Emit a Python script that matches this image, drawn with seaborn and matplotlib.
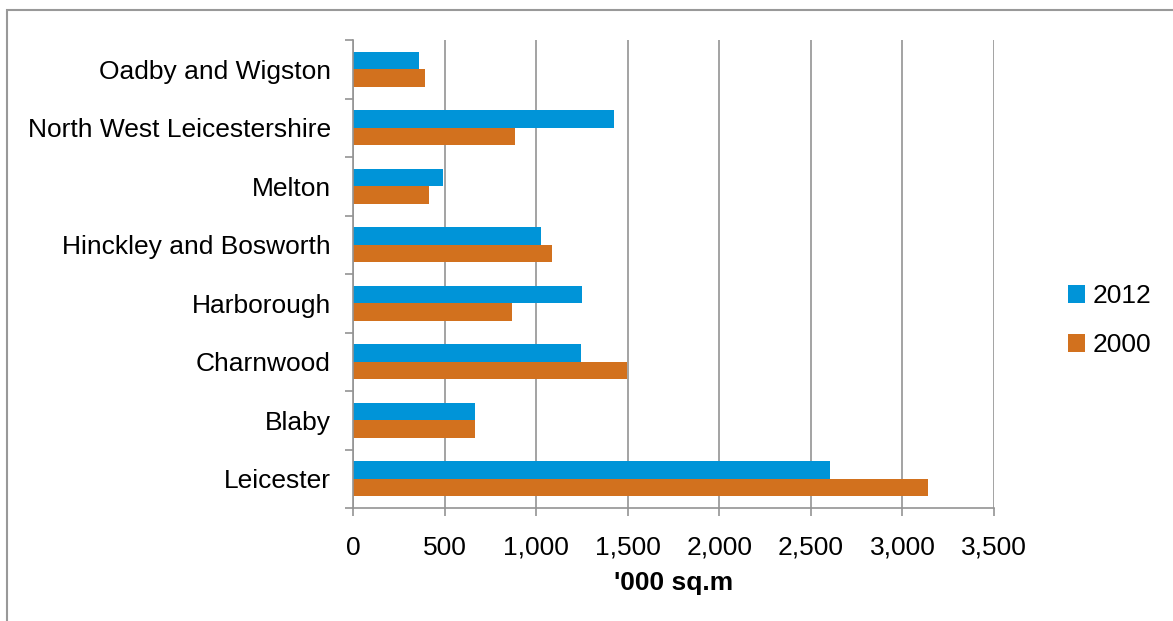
import numpy as np
import pandas as pd
import seaborn as sns
import matplotlib.pyplot as plt
from matplotlib.patches import Rectangle
from matplotlib.ticker import FuncFormatter, FixedLocator

# values ('000 sq.m)
districts = ['Oadby and Wigston', 'North West Leicestershire', 'Melton',
             'Hinckley and Bosworth', 'Harborough', 'Charnwood', 'Blaby', 'Leicester']
vals_2012 = [360, 1425, 490, 1025, 1253, 1243, 665, 2606]
vals_2000 = [395, 885, 414, 1086, 867, 1496, 665, 3140]
years = ['2012', '2000']
colors = ['#0094d8', '#d2711e']

df = pd.DataFrame({'district': districts * 2,
                   'year': [years[0]] * len(districts) + [years[1]] * len(districts),
                   'value': vals_2012 + vals_2000})

sns.set_style('white')
plt.rcParams['font.family'] = ['Liberation Sans', 'DejaVu Sans']
plt.rcParams['text.color'] = 'black'
plt.rcParams['xtick.labelcolor'] = 'black'
plt.rcParams['ytick.labelcolor'] = 'black'
plt.rcParams['axes.labelcolor'] = 'black'

fs = 19

fig = plt.figure(figsize=(11.73, 6.21), dpi=100)
ax = fig.add_axes([353 / 1173, 1 - 508 / 621, (994 - 353) / 1173, (508 - 40) / 621])

sns.barplot(data=df, y='district', x='value', hue='year', order=districts,
            hue_order=years, palette=colors, width=0.6, orient='h',
            saturation=1, ax=ax, edgecolor='none', linewidth=0)

ax.set_xlim(0, 3500)
ax.set_ylim(len(districts) - 0.5, -0.5)
ax.set_xticks(np.arange(0, 3501, 500))
ax.xaxis.set_major_formatter(FuncFormatter(lambda v, p: f'{int(v):,}'))
ax.grid(axis='x', color='#939393', linewidth=1.2)
ax.set_axisbelow(True)

# category boundary ticks on the y axis
ax.yaxis.set_minor_locator(FixedLocator(np.arange(-0.5, len(districts), 1)))
ax.tick_params(axis='y', which='major', length=0, labelsize=fs, pad=16)
ax.tick_params(axis='y', which='minor', left=True, length=6, width=1.2, color='#939393')
ax.tick_params(axis='x', bottom=True, length=6, width=1.2, color='#939393',
               labelsize=fs, pad=14)

for s in ['top', 'right']:
    ax.spines[s].set_visible(False)
for s in ['left', 'bottom']:
    ax.spines[s].set_color('#939393')
    ax.spines[s].set_linewidth(1.2)

ax.set_ylabel('')
ax.set_xlabel("'000 sq.m", fontsize=fs, fontweight='bold', labelpad=8)

ax.legend(loc='center left', bbox_to_anchor=(1.078, 0.40), frameon=False,
          fontsize=fs, handlelength=0.65, handleheight=0.65, handletextpad=0.3,
          labelspacing=0.95)

# outer chart frame
fig.add_artist(Rectangle((7 / 1173, -0.1), 1.2, 1 - 10 / 621 + 0.1,
                         transform=fig.transFigure, fill=False,
                         edgecolor='#999999', linewidth=1.5))

fig.savefig('out.png', dpi=100)
